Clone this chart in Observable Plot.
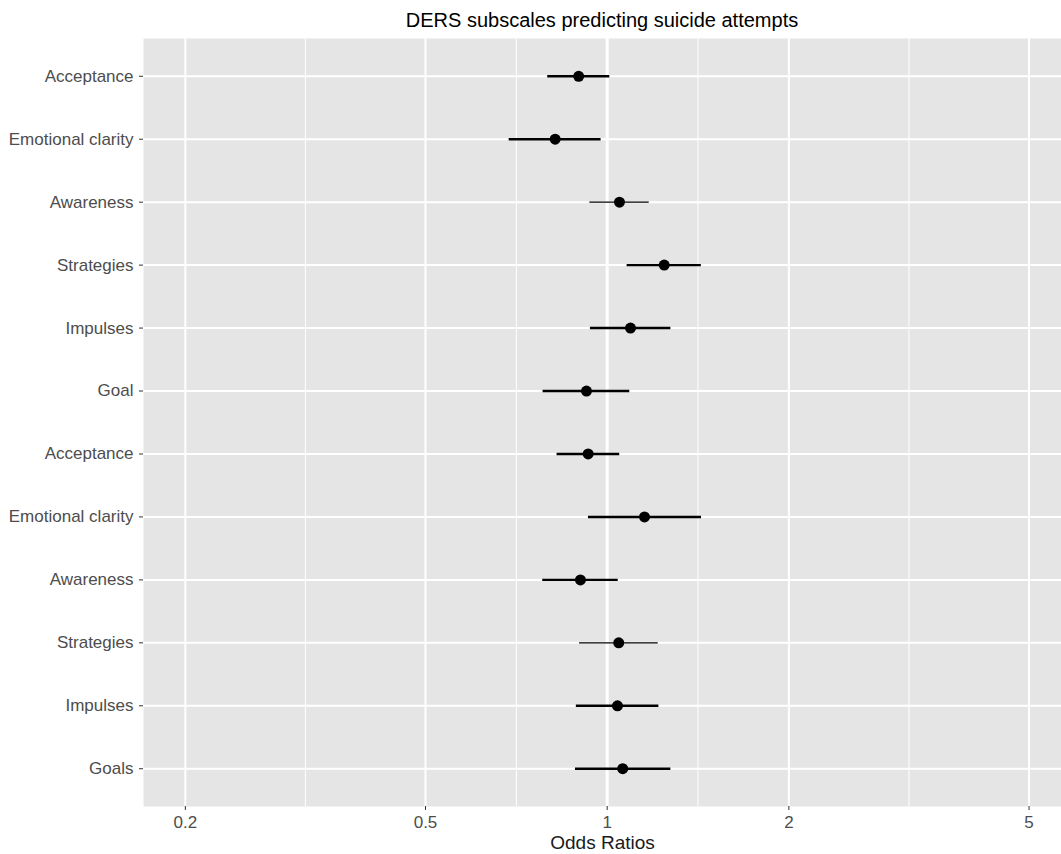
<!DOCTYPE html>
<html>
<head>
<meta charset="utf-8">
<script src="https://cdn.jsdelivr.net/npm/d3@7"></script>
<script src="https://cdn.jsdelivr.net/npm/@observablehq/plot@0.6"></script>
<style>
  body { margin: 0; background: #fff; font-family: "Liberation Sans", Arial, sans-serif; }
  #title { height: 38px; width: 918px; margin-left: 143px; text-align: center; font-size: 20px; line-height: 40px; color: #000; }
</style>
</head>
<body>
<div id="title">DERS subscales predicting suicide attempts</div>
<div id="chart"></div>
<script>
const labels = ["Acceptance","Emotional clarity","Awareness","Strategies","Impulses","Goal","Acceptance","Emotional clarity","Awareness","Strategies","Impulses","Goals"];
const oddsRatio = [0.897,0.820,1.048,1.243,1.093,0.924,0.930,1.153,0.903,1.045,1.040,1.061];
const lower = [0.797,0.688,0.936,1.079,0.938,0.783,0.826,0.931,0.782,0.900,0.889,0.886];
const upper = [1.010,0.977,1.174,1.432,1.275,1.090,1.049,1.433,1.043,1.215,1.218,1.275];
const xTicks = [0.2, 0.5, 1, 2, 5];
const thinRows = [2, 9];

const data = labels.map((l, i) => ({i, label: l, or: oddsRatio[i], lo: lower[i], hi: upper[i]}));
const minorTicks = xTicks.slice(1).map((t, k) => Math.sqrt(t * xTicks[k]));
const idx = labels.map((_, i) => i);

const chart = Plot.plot({
  width: 1061,
  height: 816,
  marginLeft: 143,
  marginRight: 0,
  marginTop: 0,
  marginBottom: 48,
  style: {fontFamily: "'Liberation Sans', Arial, sans-serif", background: "#fff", overflow: "visible"},
  x: {type: "log", domain: [0.1705, 5.659]},
  y: {type: "point", domain: idx, padding: 0.6, round: false},
  marks: [
    Plot.frame({fill: "#E5E5E5", stroke: null}),
    Plot.ruleX(minorTicks, {stroke: "#fff", strokeWidth: 1}),
    Plot.ruleX(xTicks, {stroke: "#fff", strokeWidth: d => d === 1 ? 3 : 2}),
    Plot.ruleY(idx, {stroke: "#fff", strokeWidth: 2}),
    Plot.ruleY(data, {y: "i", x1: "lo", x2: "hi", stroke: "#000", strokeWidth: d => thinRows.includes(d.i) ? 1.3 : 2.4}),
    Plot.dot(data, {x: "or", y: "i", r: 5.5, fill: "#000", stroke: null}),
    Plot.axisX({ticks: xTicks, tickFormat: d => String(d), tickSize: 4, tickPadding: 5, stroke: "#333", fill: "#4D4D4D", fontSize: 17, label: null}),
    Plot.axisX({ticks: [], tickSize: 0, label: "Odds Ratios", labelAnchor: "center", labelArrow: "none", labelOffset: 42, fontSize: 19, fill: "#1a1a1a"}),
    Plot.axisY({ticks: idx, tickFormat: i => labels[i], tickSize: 4, tickPadding: 6, stroke: "#333", fill: "#4D4D4D", fontSize: 17, label: null})
  ]
});
document.getElementById("chart").appendChild(chart);
</script>
</body>
</html>
